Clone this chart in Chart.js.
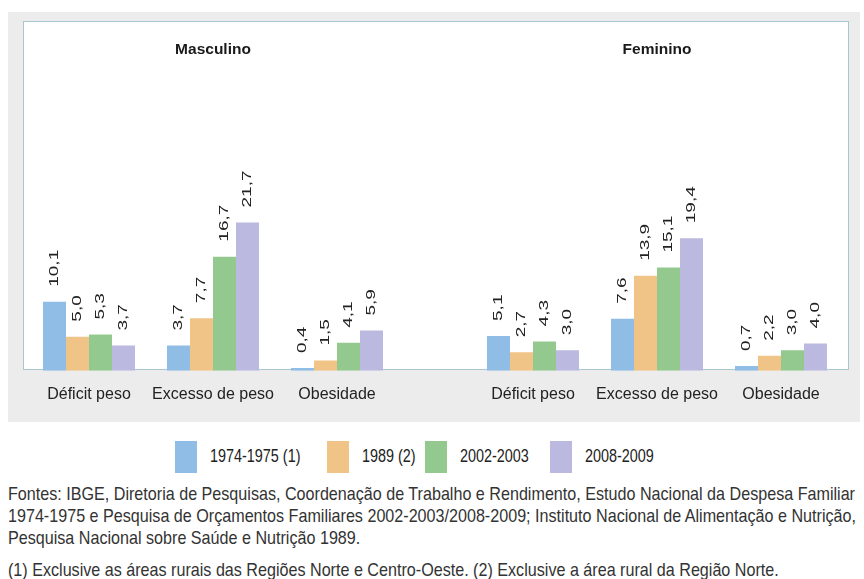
<!DOCTYPE html>
<html lang="pt-BR">
<head>
<meta charset="utf-8">
<script src="https://cdn.jsdelivr.net/npm/chart.js@4/dist/chart.umd.min.js"></script>
<style>
  body { margin: 0; background: #fff; width: 864px; height: 579px; position: relative; overflow: hidden;
         font-family: "Liberation Sans", Arial, sans-serif; color: #222; }
  #panel { position: absolute; left: 8px; top: 12px; width: 852px; height: 410px; background: #ececec; }
  #box { position: absolute; left: 23px; top: 21px; width: 824px; height: 347px; background: #fff;
         border: 1.5px solid #a9c6d3; }
  canvas { position: absolute; top: 21px; }
  #chartM { left: 23px; }
  #chartF { left: 436px; }
  .leg { position: absolute; top: 441px; }
  .leg .sw { position: absolute; width: 22px; height: 32px; }
  .leg span { position: absolute; left: 35px; top: 5px; font-size: 18px; white-space: nowrap;
              transform: scaleX(0.8); transform-origin: left center; }
  #notes { position: absolute; left: 8px; top: 483px; font-size: 19px; line-height: 22px; white-space: nowrap;
           color: #333; transform-origin: left top; }
  #notes p { margin: 0; }
  #notes .n2 { margin-top: 10px; }
</style>
</head>
<body>
<div id="panel"></div>
<div id="box"></div>
<canvas id="chartM" width="413" height="405"></canvas>
<canvas id="chartF" width="413" height="405"></canvas>
<div id="legend"></div>
<div id="notes">
  <p id="firstNote">Fontes: IBGE, Diretoria de Pesquisas, Coordenação de Trabalho e Rendimento, Estudo Nacional da Despesa Familiar</p>
  <p>1974-1975 e Pesquisa de Orçamentos Familiares 2002-2003/2008-2009; Instituto Nacional de Alimentação e Nutrição,</p>
  <p>Pesquisa Nacional sobre Saúde e Nutrição 1989.</p>
  <p class="n2">(1) Exclusive as áreas rurais das Regiões Norte e Centro-Oeste. (2) Exclusive a área rural da Região Norte.</p>
</div>
<script>
const categories = ["Déficit peso", "Excesso de peso", "Obesidade"];
const periods = ["1974-1975 (1)", "1989 (2)", "2002-2003", "2008-2009"];
const colors = ["#8fbde6", "#f0c387", "#93c98f", "#bcb9e0"];

// Masculino, one array per period
const masc1974 = [10.1, 3.7, 0.4];
const masc1989 = [5.0, 7.7, 1.5];
const masc2002 = [5.3, 16.7, 4.1];
const masc2008 = [3.7, 21.7, 5.9];

// Feminino
const fem1974 = [5.1, 7.6, 0.7];
const fem1989 = [2.7, 13.9, 2.2];
const fem2002 = [4.3, 15.1, 3.0];
const fem2008 = [3.0, 19.4, 4.0];

const fmt = (v) => v.toFixed(1).replace(".", ",");

// rotated value labels above each bar
const valueLabels = {
  id: "valueLabels",
  afterDatasetsDraw(chart) {
    const ctx = chart.ctx;
    chart.data.datasets.forEach((ds, i) => {
      chart.getDatasetMeta(i).data.forEach((bar, j) => {
        ctx.save();
        ctx.translate(bar.x, bar.y - 15);
        ctx.scale(0.72, 1);
        ctx.rotate(-Math.PI / 2);
        ctx.font = "19px 'Liberation Sans', Arial, sans-serif";
        ctx.fillStyle = "#222";
        ctx.textAlign = "left";
        ctx.textBaseline = "middle";
        ctx.fillText(fmt(ds.data[j]), 0, 0);
        ctx.restore();
      });
    });
  },
};

const makeChart = (el, title, series, padLeft, padRight) => {
  return new Chart(el, {
    type: "bar",
    data: {
      labels: categories,
      datasets: series.map((data, i) => ({
        label: periods[i],
        data,
        backgroundColor: colors[i],
        borderWidth: 0,
        categoryPercentage: 0.742,
        barPercentage: 1,
      })),
    },
    options: {
      responsive: false,
      animation: false,
      events: [],
      layout: { padding: { left: padLeft, right: padRight, top: 0, bottom: 8 } },
      plugins: {
        legend: { display: false },
        tooltip: { enabled: false },
        title: {
          display: true,
          text: title,
          color: "#1a1a1a",
          font: { family: "'Liberation Sans', Arial, sans-serif", size: 15.5, weight: "bold" },
          padding: { top: 19, bottom: 32 },
        },
      },
      scales: {
        x: {
          grid: { display: false, drawTicks: false },
          border: { display: false },
          ticks: {
            color: "#222",
            padding: 14,
            maxRotation: 0,
            autoSkip: false,
            font: { family: "'Liberation Sans', Arial, sans-serif", size: 16 },
          },
        },
        y: { display: false, min: 0, max: 41 },
      },
    },
    plugins: [valueLabels],
  });
};

makeChart(document.getElementById("chartM"), "Masculino", [masc1974, masc1989, masc2002, masc2008], 4, 37);
makeChart(document.getElementById("chartF"), "Feminino", [fem1974, fem1989, fem2002, fem2008], 35, 6);

// legend under the panel
const legendX = [175, 327, 425, 550];
const legend = document.getElementById("legend");
periods.forEach((p, i) => {
  const item = document.createElement("div");
  item.className = "leg";
  item.style.left = legendX[i] + "px";
  item.innerHTML = `<div class="sw" style="background:${colors[i]}"></div><span>${p}</span>`;
  legend.appendChild(item);
});

// condensed look of the source notes: squeeze to the width of the first line
const notes = document.getElementById("notes");
const first = document.getElementById("firstNote");
const range = document.createRange();
range.selectNodeContents(first);
const w = range.getBoundingClientRect().width;
notes.style.transform = `scaleX(${847 / w})`;
</script>
</body>
</html>
